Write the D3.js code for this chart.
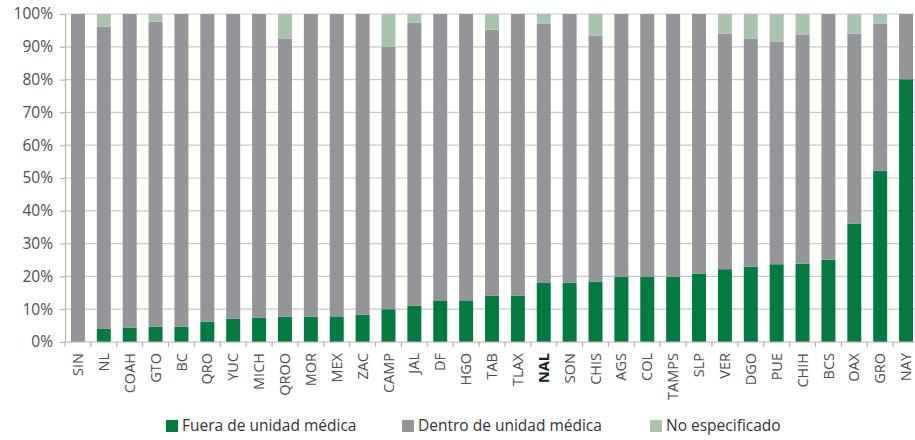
<!DOCTYPE html>
<html>
<head>
<meta charset="utf-8">
<script src="https://cdn.jsdelivr.net/npm/d3@7"></script>
<style>
  body { margin: 0; background: #fff; }
  svg { display: block; }
  text { font-family: "Open Sans", "Noto Sans", sans-serif; }
</style>
</head>
<body>
<svg id="chart" width="915" height="440"></svg>
<script>
const categories = ["SIN","NL","COAH","GTO","BC","QRO","YUC","MICH","QROO","MOR","MEX","ZAC","CAMP","JAL","DF","HGO","TAB","TLAX","NAL","SON","CHIS","AGS","COL","TAMPS","SLP","VER","DGO","PUE","CHIH","BCS","OAX","GRO","NAY"];
const fuera = [0,4.0,4.4,4.7,4.7,6.2,7.1,7.4,7.7,7.7,7.8,8.3,10.0,11.1,12.5,12.5,14.1,14.1,18.0,18.1,18.4,19.9,19.9,19.9,20.8,22.2,23.0,23.7,23.9,25.1,36.1,52.2,80.1];
const noEsp = [0,3.9,0,2.3,0,0,0,0,7.6,0,0,0,10.0,2.6,0,0,4.8,0,3.0,0,6.6,0,0,0,0,6.0,7.6,8.5,6.4,0,6.0,3.0,0];
const dentro = categories.map((c, i) => 100 - fuera[i] - noEsp[i]);
const seriesNames = ["Fuera de unidad médica", "Dentro de unidad médica", "No especificado"];
const seriesColors = ["#027a40", "#939598", "#a9c4ac"];
const yTicks = [0,10,20,30,40,50,60,70,80,90,100];

const rows = categories.map((c, i) => ({cat: c, f: fuera[i], d: dentro[i], n: noEsp[i]}));
const stack = d3.stack().keys(["f", "d", "n"])(rows);

const svg = d3.select("#chart");
const x = d3.scaleBand().domain(categories).range([65, 919]).paddingInner(0.46).paddingOuter(0.23);
const y = d3.scaleLinear().domain([0, 100]).range([342, 14]);

// gridlines
svg.append("g").selectAll("line").data(yTicks.filter(t => t > 0)).join("line")
  .attr("x1", 65).attr("x2", 915)
  .attr("y1", d => y(d)).attr("y2", d => y(d))
  .attr("stroke", "#c9c9c9").attr("stroke-width", 1.2);

// bars
svg.append("g").selectAll("g").data(stack).join("g")
  .attr("fill", (d, i) => seriesColors[i])
  .selectAll("rect").data(d => d).join("rect")
  .attr("x", d => x(d.data.cat))
  .attr("width", x.bandwidth())
  .attr("y", d => y(d[1]))
  .attr("height", d => Math.max(0, y(d[0]) - y(d[1])));

// y axis
const yAxis = svg.append("g").attr("transform", "translate(65,0)")
  .call(d3.axisLeft(y).tickValues(yTicks).tickFormat(d => d + "%").tickSize(5).tickPadding(7));
yAxis.select(".domain").attr("stroke", "#b5b5b5").attr("stroke-width", 1.2);
yAxis.selectAll(".tick line").attr("stroke", "#b5b5b5").attr("stroke-width", 1.2);
yAxis.selectAll(".tick text").attr("fill", "#4d4d4d").style("font-size", "15.5px").style("font-family", '"Open Sans", sans-serif');

// x axis
const step = x.step();
const xAxis = svg.append("g").attr("transform", "translate(0,342)")
  .call(d3.axisBottom(x).tickSize(0).tickSizeOuter(0));
xAxis.select(".domain").remove();
xAxis.append("line").attr("x1", 65).attr("x2", 915).attr("stroke", "#b5b5b5").attr("stroke-width", 1.2);
xAxis.append("g").selectAll("line").data(d3.range(categories.length + 1)).join("line")
  .attr("x1", i => 65 + i * step).attr("x2", i => 65 + i * step)
  .attr("y1", 0).attr("y2", 5)
  .attr("stroke", "#b5b5b5").attr("stroke-width", 1.2);
xAxis.selectAll(".tick text")
  .attr("transform", "rotate(-90)")
  .attr("text-anchor", "end")
  .attr("x", -11).attr("y", 0).attr("dy", "0.35em")
  .style("font-size", "14.5px")
  .style("font-weight", d => d === "NAL" ? "bold" : "normal")
  .style("fill", d => d === "NAL" ? "#1a1a1a" : "#4d4d4d");

// legend
const legendX = [166, 402, 650];
const lg = svg.append("g").selectAll("g").data(seriesNames).join("g")
  .attr("transform", (d, i) => `translate(${legendX[i]},420)`);
lg.append("rect").attr("width", 12).attr("height", 12).attr("fill", (d, i) => seriesColors[i]);
lg.append("text").attr("x", 16).attr("y", 6).attr("dy", "0.35em")
  .attr("fill", "#333").style("font-size", "15.5px").text(d => d);
</script>
</body>
</html>
